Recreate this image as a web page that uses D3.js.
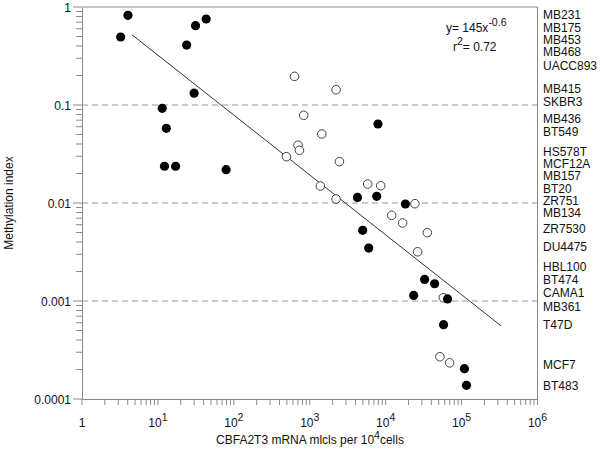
<!DOCTYPE html>
<html><head><meta charset="utf-8">
<script src="https://cdn.jsdelivr.net/npm/d3@7"></script>
<style>body{margin:0;background:#fff}svg{display:block;font-family:"Liberation Sans",Arial,sans-serif}</style>
</head><body>
<svg id="c" width="600" height="449"></svg>
<script>
// Filled points (cell lines, methylation)
const filledX = [4.03,3.23,31.3,43.2,23.9,30.0,11.4,12.9,12.2,17.1,79.2,7920,4250,7620,18200,4980,5980,32600,44100,23400,65400,57900,109000,116000];
const filledY = [0.823,0.494,0.645,0.754,0.409,0.132,0.0925,0.0578,0.0237,0.0237,0.0219,0.064,0.0114,0.0117,0.00977,0.00526,0.00347,0.00166,0.00150,0.00114,0.00105,0.000573,0.000204,0.000138];
// Open points
const openX = [629,2220,834,1440,701,732,493,2460,1380,5800,8600,2220,24300,12000,16700,35400,26400,57400,51800,69500];
const openY = [0.196,0.143,0.0785,0.0506,0.0388,0.0345,0.0297,0.0264,0.0149,0.0156,0.0150,0.0110,0.00984,0.00748,0.00625,0.00498,0.00318,0.00108,0.000270,0.000234];
// Fit line end points
const fitX = [4.55, 333000];
const fitY = [0.521, 0.000556];
// Right-side cell line labels and their vertical values
const cellLabels = ["MB231","MB175","MB453","MB468","UACC893","MB415","SKBR3","MB436","BT549","HS578T","MCF12A","MB157","BT20","ZR751","MB134","ZR7530","DU4475","HBL100","BT474","CAMA1","MB361","T47D","MCF7","BT483"];
const cellLabelY = [0.829,0.611,0.460,0.347,0.250,0.145,0.107,0.072,0.053,0.0331,0.0250,0.0189,0.0139,0.0105,0.0079,0.00543,0.00356,0.00222,0.00164,0.00121,0.00087,0.000569,0.000222,0.000136];
const yTickVals = [1,0.1,0.01,0.001,0.0001];
const yTickLabels = ["1","0.1","0.01","0.001","0.0001"];
const xTickExps = [0,1,2,3,4,5,6];
const gridVals = [0.1,0.01,0.001];

const svg = d3.select("#c");
const x = d3.scaleLog().domain([1,1e6]).range([82,537.5]);
const y = d3.scaleLog().domain([1e-4,1]).range([399,7]);
const axisCol = "#8a8a8a";
const fs = 12;

// dashed grid lines
svg.selectAll(".grid").data(gridVals).enter().append("line")
  .attr("x1",x(1)).attr("x2",x(1e6)).attr("y1",d=>y(d)).attr("y2",d=>y(d))
  .attr("stroke","#999").attr("stroke-width",1).attr("stroke-dasharray","6,4");

// frame top and right
svg.append("line").attr("x1",x(1)).attr("x2",x(1e6)).attr("y1",y(1)).attr("y2",y(1)).attr("stroke",axisCol);
svg.append("line").attr("x1",x(1e6)).attr("x2",x(1e6)).attr("y1",y(1)).attr("y2",y(1e-4)).attr("stroke",axisCol);

// left axis
const yAxis = d3.axisLeft(y).tickValues(y.ticks()).tickSize(0).tickFormat("");
const yg = svg.append("g").attr("transform",`translate(${x(1)},0)`).call(yAxis);
yg.select(".domain").attr("stroke",axisCol);
const yMinor = y.ticks().filter(v=>!yTickVals.some(t=>Math.abs(t-v)/t<1e-6));
yg.selectAll(".mn").data(yMinor).enter().append("line")
  .attr("x1",-6).attr("x2",0).attr("y1",d=>y(d)).attr("y2",d=>y(d)).attr("stroke",axisCol);
yg.selectAll(".mj").data(yTickVals).enter().append("line")
  .attr("x1",-9).attr("x2",0).attr("y1",d=>y(d)).attr("y2",d=>y(d)).attr("stroke",axisCol);
yg.selectAll(".lb").data(yTickVals).enter().append("text")
  .attr("x",-11).attr("y",d=>y(d)+4.5).attr("text-anchor","end")
  .attr("font-size",fs).attr("fill","#111").text((d,i)=>yTickLabels[i]);

// bottom axis
const xAxis = d3.axisBottom(x).tickValues(x.ticks()).tickSize(0).tickFormat("");
const xg = svg.append("g").attr("transform",`translate(0,${y(1e-4)})`).call(xAxis);
xg.select(".domain").attr("stroke",axisCol);
xg.selectAll(".tk").data(x.ticks()).enter().append("line")
  .attr("x1",d=>x(d)).attr("x2",d=>x(d)).attr("y1",0).attr("y2",6).attr("stroke",axisCol);
const xl = xg.selectAll(".xl").data(xTickExps).enter().append("text")
  .attr("x",d=>x(Math.pow(10,d))).attr("y",28).attr("text-anchor","middle")
  .attr("font-size",fs).attr("fill","#111");
xl.each(function(d){
  const t = d3.select(this);
  if(d===0){ t.text("1"); }
  else { t.append("tspan").text("10"); t.append("tspan").attr("dy",-6).attr("font-size",10.5).text(d); }
});

// axis titles
svg.append("text").attr("transform",`translate(13,${(y(1)+y(1e-4))/2}) rotate(-90)`)
  .attr("text-anchor","middle").attr("font-size",fs).attr("fill","#111").text("Methylation index");
const xt = svg.append("text").attr("x",310).attr("y",444).attr("text-anchor","middle").attr("font-size",fs).attr("fill","#111");
xt.append("tspan").text("CBFA2T3 mRNA mlcls per 10");
xt.append("tspan").attr("dy",-5).attr("font-size",10.5).text("4");
xt.append("tspan").attr("dy",5).text("cells");

// fit line
svg.append("line").attr("x1",x(fitX[0])).attr("y1",y(fitY[0])).attr("x2",x(fitX[1])).attr("y2",y(fitY[1]))
  .attr("stroke","#333").attr("stroke-width",1);

// points
svg.selectAll(".op").data(openX).enter().append("circle")
  .attr("cx",d=>x(d)).attr("cy",(d,i)=>y(openY[i])).attr("r",4.3)
  .attr("fill","#fff").attr("stroke","#444").attr("stroke-width",1);
svg.selectAll(".fp").data(filledX).enter().append("circle")
  .attr("cx",d=>x(d)).attr("cy",(d,i)=>y(filledY[i])).attr("r",4.6).attr("fill","#000");

// equation
const eq = svg.append("text").attr("x",446).attr("y",32).attr("font-size",fs).attr("fill","#111");
eq.append("tspan").text("y= 145x");
eq.append("tspan").attr("dy",-6).attr("font-size",10.5).text("-0.6");
const r2 = svg.append("text").attr("x",453).attr("y",51).attr("font-size",fs).attr("fill","#111");
r2.append("tspan").text("r");
r2.append("tspan").attr("dy",-6).attr("font-size",10.5).text("2");
r2.append("tspan").attr("dy",6).text("= 0.72");

// right labels
svg.selectAll(".cl").data(cellLabels).enter().append("text")
  .attr("x",543).attr("y",(d,i)=>y(cellLabelY[i])+4.3).attr("font-size",fs).attr("fill","#111").text(d=>d);
</script>
</body></html>
